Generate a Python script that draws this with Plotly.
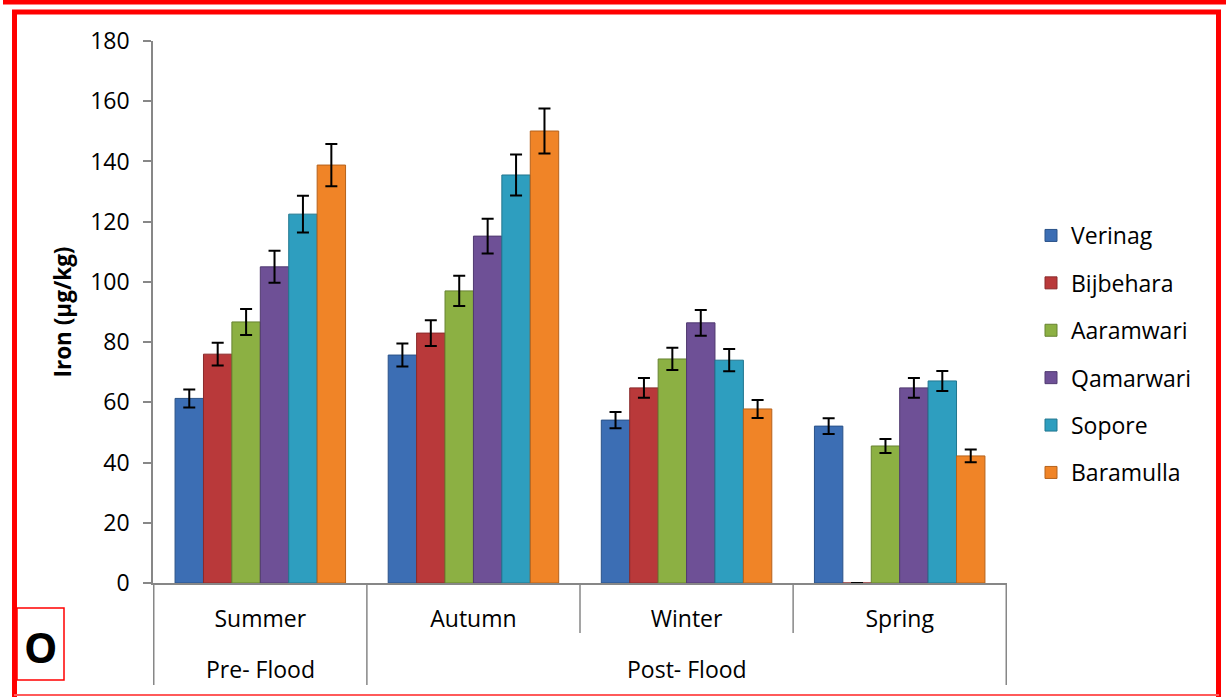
import plotly.graph_objects as go

# ---- data ----
periods = ["Pre- Flood", "Post- Flood", "Post- Flood", "Post- Flood"]
seasons = ["Summer", "Autumn", "Winter", "Spring"]
sites = ["Verinag", "Bijbehara", "Aaramwari", "Qamarwari", "Sopore", "Baramulla"]

verinag = [61.3, 75.7, 54.1, 52.1]
bijbehara = [76.0, 83.0, 64.8, 0]
aaramwari = [86.7, 97.0, 74.4, 45.5]
qamarwari = [105.0, 115.2, 86.4, 64.8]
sopore = [122.5, 135.5, 74.0, 67.1]
baramulla = [138.8, 150.1, 57.8, 42.2]

err_verinag = [3.0, 3.8, 2.7, 2.6]
err_bijbehara = [3.8, 4.3, 3.3, None]
err_aaramwari = [4.3, 5.0, 3.7, 2.3]
err_qamarwari = [5.3, 5.8, 4.3, 3.3]
err_sopore = [6.1, 6.8, 3.7, 3.3]
err_baramulla = [7.0, 7.5, 3.0, 2.1]

values = [verinag, bijbehara, aaramwari, qamarwari, sopore, baramulla]
errors = [err_verinag, err_bijbehara, err_aaramwari, err_qamarwari, err_sopore, err_baramulla]

colors = ["#3C6EB4", "#B9393A", "#8CB043", "#6E5096", "#2E9EBF", "#F08427"]
edges = ["#2A5288", "#8A2A2B", "#678331", "#503A70", "#21768F", "#B5621C"]

W, H = 1226, 697
L, R, T, B = 153, 1007, 41, 583  # plot area in pixels

def px(x):
    return (x - L) / (R - L)

def py(y):
    return (B - y) / (B - T)

FONT = "Open Sans"
AXIS = "#878787"

fig = go.Figure()
for name, vals, errs, c, e in zip(sites, values, errors, colors, edges):
    fig.add_trace(go.Bar(
        x=seasons, y=vals, name=name,
        marker=dict(color=c, line=dict(color=e, width=1)),
        error_y=dict(type="data", array=errs, visible=True, color="black",
                     thickness=2, width=6),
        legendgroup=name,
    ))

fig.update_layout(
    width=W, height=H,
    margin=dict(l=L, r=W - R, t=T, b=H - B),
    paper_bgcolor="white", plot_bgcolor="white",
    barmode="group", bargap=0.2, bargroupgap=0,
    font=dict(family=FONT, size=23, color="black"),
    showlegend=True,
    legend=dict(x=px(1031), y=py(214), xanchor="left", yanchor="top",
                font=dict(size=23, family=FONT), tracegroupgap=14.5,
                bgcolor="rgba(0,0,0,0)"),
    xaxis=dict(type="category", showline=True, linecolor=AXIS, linewidth=1.5,
               ticks="", tickfont=dict(size=23, family=FONT), showgrid=False,
               ticklabelstandoff=15),
    yaxis=dict(range=[0, 180], dtick=20, showline=True, linecolor=AXIS, linewidth=1.5,
               ticks="outside", ticklen=8, tickcolor=AXIS, tickwidth=1.5,
               showgrid=False, zeroline=False, tickfont=dict(size=23, family=FONT),
               ticklabelstandoff=9,
               title=dict(text="<b>Iron (µg/kg)</b>", font=dict(size=22.5, family=FONT),
                          standoff=12)),
)

shapes = []
# category boundary lines below the axis
n = len(seasons)
for i in range(n + 1):
    b = i - 0.5
    outer = (i == 0 or i == n or periods[i] != periods[i - 1])
    shapes.append(dict(type="line", xref="x", yref="paper", x0=b, x1=b,
                       y0=py(583), y1=py(685 if outer else 633),
                       line=dict(color=AXIS, width=1.5)))

# outer-level labels centred under their groups
groups = []
for i, p in enumerate(periods):
    if groups and groups[-1][0] == p:
        groups[-1][1].append(i)
    else:
        groups.append((p, [i]))
for p, idx in groups:
    fig.add_annotation(xref="x", yref="paper", x=sum(idx) / len(idx), y=py(669),
                       text=p, showarrow=False, xanchor="center", yanchor="middle",
                       font=dict(size=23, family=FONT, color="black"))

# red frame
red = "#FF0000"
shapes += [
    dict(type="line", xref="paper", yref="paper", x0=px(3), x1=px(1226), y0=py(2), y1=py(2),
         line=dict(color=red, width=5)),
    dict(type="line", xref="paper", yref="paper", x0=px(14.5), x1=px(14.5), y0=py(10), y1=py(697),
         line=dict(color=red, width=5)),
    dict(type="line", xref="paper", yref="paper", x0=px(12), x1=px(1221), y0=py(12), y1=py(12),
         line=dict(color=red, width=5)),
    dict(type="line", xref="paper", yref="paper", x0=px(1218.5), x1=px(1218.5), y0=py(10), y1=py(697),
         line=dict(color=red, width=5)),
    dict(type="line", xref="paper", yref="paper", x0=px(14), x1=px(1219), y0=py(695), y1=py(695),
         line=dict(color="#FF5A5A", width=2)),
    dict(type="rect", xref="paper", yref="paper", x0=px(17), x1=px(64), y0=py(608), y1=py(680),
         line=dict(color=red, width=1.5)),
]
fig.update_layout(shapes=shapes)
fig.add_annotation(xref="paper", yref="paper", x=px(40.5), y=py(646), text="<b>O</b>",
                   showarrow=False, xanchor="center", yanchor="middle",
                   font=dict(size=42, family=FONT, color="black"))

fig.write_html("out.html", config={"displayModeBar": False},
               post_script="document.body.style.margin='0px';document.body.style.overflow='hidden';")
